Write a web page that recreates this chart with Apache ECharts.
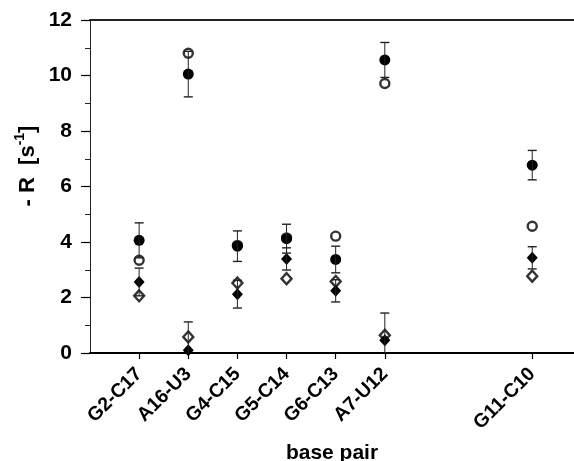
<!DOCTYPE html>
<html>
<head>
<meta charset="utf-8">
<script src="https://cdn.jsdelivr.net/npm/echarts@6/dist/echarts.min.js"></script>
<style>
html,body{margin:0;padding:0;background:#fff;}
#chart{width:574px;height:461px;}
</style>
</head>
<body>
<div id="chart"></div>
<script>
// ---- data ----
var basePairs = ['G2-C17', 'A16-U3', 'G4-C15', 'G5-C14', 'G6-C13', 'A7-U12', 'G11-C10'];
var positions = [0, 1, 2, 3, 4, 5, 8];
var filledCircle    = [4.06, 10.05, 3.85, 4.12, 3.37, 10.56, 6.77];
var filledCircleErr = [0.63, 0.82, 0.55, 0.52, 0.48, 0.63, 0.53];
var openCircle      = [3.34, 10.80, 3.88, 4.15, 4.21, 9.71, 4.57];
var filledDiamond    = [2.56, 0.10, 2.12, 3.39, 2.24, 0.46, 3.43];
var filledDiamondErr = [0.50, 1.02, 0.50, 0.40, 0.40, 0.98, 0.40];
var openDiamond     = [2.06, 0.58, 2.52, 2.68, 2.58, 0.64, 2.77];

var FONT = "'Liberation Sans', Arial, Helvetica, sans-serif";

function pts(vals) {
  return vals.map(function (v, i) { return [positions[i], v]; });
}
function errData() {
  var d = [];
  for (var i = 0; i < positions.length; i++) {
    d.push([positions[i], filledCircle[i], filledCircleErr[i]]);
    d.push([positions[i], filledDiamond[i], filledDiamondErr[i]]);
  }
  return d;
}

var chart = echarts.init(document.getElementById('chart'), null, {renderer: 'canvas'});
var option = {
  animation: false,
  backgroundColor: '#fff',
  grid: {left: 90, right: 0, top: 20, bottom: 108, containLabel: false, outerBoundsMode: 'none'},
  xAxis: [{
    type: 'value',
    min: -1,
    max: 8.85,
    interval: 1,
    splitLine: {show: false},
    axisLine: {show: true, onZero: false, lineStyle: {color: '#000', width: 2}},
    axisTick: {show: true, inside: false, length: 6, customValues: positions, lineStyle: {color: '#000', width: 1.2}},
    axisLabel: {
      show: true, rotate: 45, margin: 18, customValues: positions,
      fontFamily: FONT, fontWeight: 'bold', fontSize: 19.5, color: '#000',
      formatter: function (v) { var i = positions.indexOf(v); return i >= 0 ? basePairs[i] : ''; }
    },
    name: 'base pair',
    nameLocation: 'middle',
    nameGap: 90,
    nameTextStyle: {fontFamily: FONT, fontWeight: 'bold', fontSize: 21, color: '#000'}
  }, {
    type: 'value',
    position: 'top',
    min: -1,
    max: 8.85,
    splitLine: {show: false},
    axisLine: {show: true, onZero: false, lineStyle: {color: '#222', width: 2}},
    axisTick: {show: false},
    axisLabel: {show: false}
  }],
  yAxis: {
    type: 'value',
    min: 0,
    max: 12,
    interval: 2,
    splitLine: {show: false},
    axisLine: {show: true, onZero: false, lineStyle: {color: '#222', width: 1}},
    axisTick: {show: true, inside: false, length: 9, lineStyle: {color: '#000', width: 1.2}},
    minorTick: {show: true, splitNumber: 2, length: 5, lineStyle: {color: '#222', width: 1}},
    axisLabel: {margin: 18, fontFamily: FONT, fontWeight: 'bold', fontSize: 21, color: '#000'}
  },
  graphic: [{
    type: 'text',
    x: 26,
    y: 166,
    rotation: Math.PI / 2,
    style: {
      text: '{a|- R  [s}{b|-1}{a|]}',
      align: 'center',
      verticalAlign: 'middle',
      fill: '#000',
      rich: {
        a: {fontFamily: FONT, fontWeight: 'bold', fontSize: 22, lineHeight: 26, verticalAlign: 'bottom', fill: '#000'},
        b: {fontFamily: FONT, fontWeight: 'bold', fontSize: 14, lineHeight: 26, verticalAlign: 'top', fill: '#000'}
      }
    }
  }],
  series: [{
    name: 'open circle',
    type: 'scatter',
    data: pts(openCircle),
    symbol: 'circle',
    symbolSize: 9,
    itemStyle: {color: '#fff', borderColor: '#000', borderWidth: 2.4},
    z: 2
  }, {
    name: 'open diamond',
    type: 'scatter',
    data: pts(openDiamond),
    symbol: 'diamond',
    symbolSize: [10, 11],
    itemStyle: {color: '#fff', borderColor: '#000', borderWidth: 2.4},
    z: 2
  }, {
    name: 'filled circle',
    type: 'scatter',
    data: pts(filledCircle),
    symbol: 'circle',
    symbolSize: 11,
    itemStyle: {color: '#000', opacity: 1},
    z: 3
  }, {
    name: 'filled diamond',
    type: 'scatter',
    data: pts(filledDiamond),
    symbol: 'diamond',
    symbolSize: [11, 12],
    itemStyle: {color: '#000', opacity: 1},
    z: 3
  }, {
    name: 'error',
    type: 'custom',
    data: errData(),
    z: 4,
    renderItem: function (params, api) {
      var x = api.value(0), y = api.value(1), e = api.value(2);
      var lo = y - e, hi = y + e;
      var loClipped = lo < 0;
      if (loClipped) lo = 0;
      var pHi = api.coord([x, hi]);
      var pLo = api.coord([x, lo]);
      var cap = 4.5;
      var style = {stroke: '#222', lineWidth: 1};
      var children = [
        {type: 'line', shape: {x1: pHi[0], y1: pHi[1], x2: pLo[0], y2: pLo[1]}, style: style},
        {type: 'line', shape: {x1: pHi[0] - cap, y1: pHi[1], x2: pHi[0] + cap, y2: pHi[1]}, style: {stroke: '#222', lineWidth: 1.4}}
      ];
      if (!loClipped) {
        children.push({type: 'line', shape: {x1: pLo[0] - cap, y1: pLo[1], x2: pLo[0] + cap, y2: pLo[1]}, style: {stroke: '#222', lineWidth: 1.4}});
      }
      return {type: 'group', children: children};
    }
  }]
};
chart.setOption(option);
</script>
</body>
</html>
